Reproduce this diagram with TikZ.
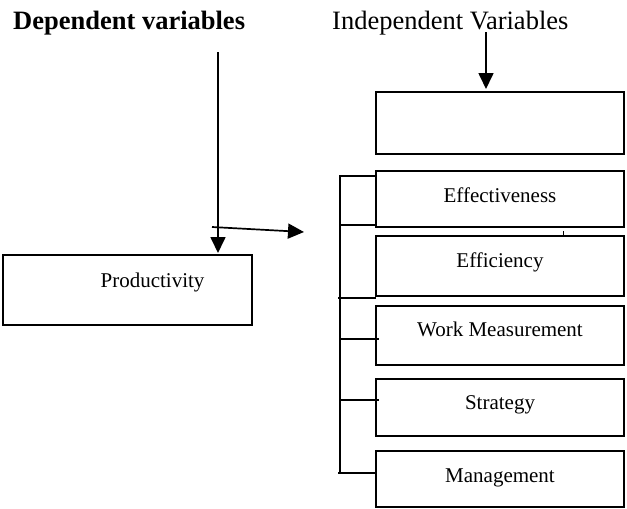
\documentclass[tikz,border=0pt]{standalone}
\usepackage{fontspec}
\setmainfont{Liberation Serif}
\usetikzlibrary{arrows.meta}
\begin{document}
\begin{tikzpicture}[x=1pt,y=-1pt,
  box/.style={draw, line width=1.8pt, minimum width=248pt, anchor=north west, inner sep=0pt, outer sep=0pt},
  lbl/.style={anchor=base, font=\fontsize{21}{24}\selectfont, inner sep=0pt},
  headreg/.style={anchor=base west, inner sep=0pt, font=\fontsize{26.5}{30}\selectfont},
  headbold/.style={anchor=base west, inner sep=0pt, font=\bfseries\fontsize{26.5}{30}\selectfont},
  arr/.style={line width=1.7pt, -{Triangle[length=16pt,width=15pt]}},
  brk/.style={line width=1.6pt}]
\useasboundingbox (0,0) rectangle (627,509);

% headings
\node[headbold] (dep) at (13,29) {Dependent variables};
\node[headreg] (indep) at (332,29) {Independent Variables};

% boxes
\node[box, minimum width=249pt, minimum height=70pt] (prod) at (3,255) {};
\node[box, minimum height=62pt] (topbox) at (376,92) {};
\node[box, minimum height=56pt] (eff) at (376,171) {};
\node[box, minimum height=60pt] (effic) at (376,236) {};
\node[box, minimum height=59pt] (wm) at (376,306) {};
\node[box, minimum height=57pt] (strat) at (376,379) {};
\node[box, minimum height=56pt] (mgmt) at (376,451) {};

% labels
\node[lbl] (prodt) at (152.5,287) {Productivity};
\node[lbl] (efft) at (500,202) {Effectiveness};
\node[lbl] (effict) at (500,267) {Efficiency};
\node[lbl] (wmt) at (500,336) {Work Measurement};
\node[lbl] (stratt) at (500,409) {Strategy};
\node[lbl] (mgmtt) at (500,482) {Management};

% arrows
\coordinate (dtop) at (218,52);
\coordinate (ddown) at (218,253);
\draw[arr] (dtop) -- (ddown);
\coordinate (hstart) at (212,227);
\coordinate (hend) at (304,232);
\draw[arr] (hstart) -- (hend);
\coordinate (itop) at (486,32);
\coordinate (idown) at (486,89);
\draw[arr] (itop) -- (idown);

% bracket
\coordinate (bt) at (340,176);
\coordinate (bb) at (340,473);
\coordinate (b1) at (340,225);
\coordinate (b2) at (338,298);
\coordinate (b3) at (340,339);
\coordinate (b4) at (340,400);
\coordinate (b5) at (338,473);
\draw[brk] (bt -| eff.west) -- (bt) -- (bb);
\draw[brk] (b1) -- (b1 -| eff.west);
\draw[brk] (b2) -- (b2 -| effic.west);
\draw[brk] (b3) -- ([xshift=3pt]b3 -| wm.west);
\draw[brk] (b4) -- ([xshift=3pt]b4 -| strat.west);
\draw[brk] (b5) -- (b5 -| mgmt.west);

% stray mark
\coordinate (m1) at (563,231);
\coordinate (m2) at (563,235);
\draw[line width=0.8pt] (m1) -- (m2);
\end{tikzpicture}
\end{document}
